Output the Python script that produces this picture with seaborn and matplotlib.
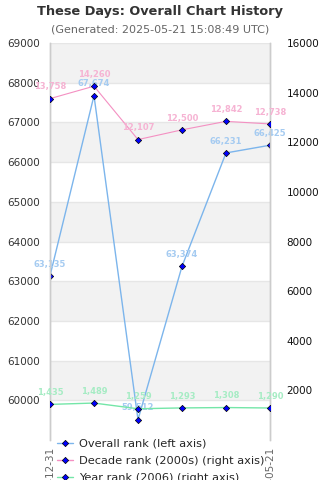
import seaborn as sns
import matplotlib.pyplot as plt
import pandas as pd
from matplotlib.lines import Line2D

dates = ["2006-12-31", "2007-12-31", "2008-12-31", "2009-12-31", "2019-12-31", "2025-05-21"]
overall_rank = [63135, 67674, 59512, 63374, 66231, 66425]
decade_rank = [13758, 14260, 12107, 12500, 12842, 12738]
year_rank = [1435, 1489, 1259, 1293, 1308, 1290]

blue = "#7cb5ec"
pink = "#f490c2"
green = "#74e6a8"
blue_lbl = "#a5cbf1"
pink_lbl = "#f6b3d3"
green_lbl = "#a6ecc4"

sns.set_style("white")
plt.rcParams['font.family'] = ['DejaVu Sans']

df = pd.DataFrame({"x": range(len(dates)), "overall": overall_rank,
                   "decade": decade_rank, "year": year_rank})

fig = plt.figure(figsize=(3.2, 4.8), dpi=100)
ax = fig.add_axes([50 / 320, 1 - 440 / 480, 220 / 320, 397 / 480])
ax2 = ax.twinx()

# alternating bands + grid on left axis
for lo in range(60000, 69000, 2000):
    ax.axhspan(lo, lo + 1000, color="#f2f2f2", zorder=0, lw=0)
for v in range(60000, 69001, 1000):
    ax.axhline(v, color="#e6e6e6", lw=1, zorder=0.5)

mk = dict(marker="D", markersize=3.2, markerfacecolor="blue", markeredgecolor="black",
          markeredgewidth=0.5)
sns.lineplot(data=df, x="x", y="overall", ax=ax, color=blue, lw=1, zorder=3, **mk)
sns.lineplot(data=df, x="x", y="decade", ax=ax2, color=pink, lw=0.8, zorder=3, **mk)
sns.lineplot(data=df, x="x", y="year", ax=ax2, color=green, lw=1, zorder=3, **mk)

def labels(a, vals, col):
    for i, v in enumerate(vals):
        a.annotate(f"{v:,}", (i, v), xytext=(0, 8.5), textcoords="offset points",
                   ha="center", va="center", fontsize=6, fontweight="bold",
                   color=col, zorder=5, annotation_clip=False)

labels(ax, overall_rank, blue_lbl)
labels(ax2, decade_rank, pink_lbl)
labels(ax2, year_rank, green_lbl)

ax.set_xlim(0, len(dates) - 1)
ax.set_ylim(59000, 69000)
ax2.set_ylim(0, 16000)
ax.set_yticks(range(60000, 69001, 1000))
ax2.set_yticks(range(2000, 16001, 2000))
ax.set_xticks([0, len(dates) - 1])
ax.set_xticklabels([dates[0], dates[-1]], rotation=90, fontsize=7.5, color="#666666")
ax.tick_params(axis="x", length=0, pad=5)
ax.tick_params(axis="y", length=0, labelsize=7.5, labelcolor="#333333", pad=7)
ax2.tick_params(axis="y", length=0, labelsize=7.5, labelcolor="#111111", pad=12)
ax.set_xlabel("")
ax.set_ylabel("")
ax2.set_ylabel("")

for a in (ax, ax2):
    a.spines["top"].set_visible(False)
    a.spines["bottom"].set_visible(False)
    a.spines["left"].set_color("#cccccc")
    a.spines["right"].set_color("#cccccc")
    a.spines["left"].set_linewidth(1)
    a.spines["right"].set_linewidth(1)
ax.set_zorder(1)
ax2.set_zorder(2)
ax.patch.set_visible(False)
ax2.patch.set_visible(False)

fig.text(0.5, 1 - 11 / 480, "These Days: Overall Chart History", ha="center", va="center",
         fontsize=9.3, fontweight="bold", color="#333333")
fig.text(0.5, 1 - 30 / 480, "(Generated: 2025-05-21 15:08:49 UTC)", ha="center", va="center",
         fontsize=8, color="#666666")

handles = [Line2D([0], [0], color=c, lw=1, **mk) for c in (blue, pink, green)]
names = ["Overall rank (left axis)", "Decade rank (2000s) (right axis)", "Year rank (2006) (right axis)"]
fig.legend(handles, names, loc="upper left", bbox_to_anchor=(52 / 320, 1 - 434 / 480),
           frameon=False, fontsize=8.2, handlelength=1.4, handletextpad=0.6,
           labelspacing=0.62, borderaxespad=0)

fig.savefig("out.png", dpi=100)
